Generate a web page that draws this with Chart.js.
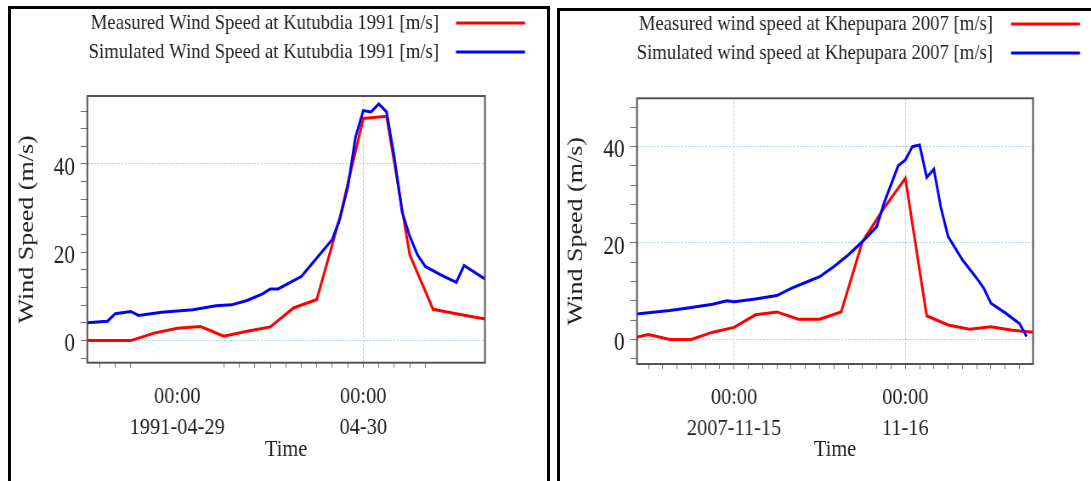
<!DOCTYPE html>
<html>
<head>
<meta charset="utf-8">
<script src="https://cdn.jsdelivr.net/npm/chart.js@4.4.1/dist/chart.umd.min.js"></script>
<style>
  html, body { margin: 0; padding: 0; background: #fff; width: 1091px; height: 481px; overflow: hidden; }
  .panel { position: absolute; box-sizing: border-box; border: 3px solid #000; height: 520px; }
  /* the source picture is squeezed sideways, so each chart is drawn wider and scaled back */
  .wrap { position: absolute; top: 0; height: 481px; transform-origin: 0 0; transform: scaleX(0.85); }
</style>
</head>
<body>
<div class="panel" style="left:8px;top:6px;width:542px"></div>
<div class="panel" style="left:557px;top:8px;width:600px"></div>
<div class="wrap" style="left:11px;width:631px"><canvas id="kutChart"></canvas></div>
<div class="wrap" style="left:560px;width:640px"><canvas id="khepChart"></canvas></div>

<script>
// Kutubdia 1991, hours from 1991-04-29 00:00
const kutMeasuredHours = [-12, -9, -6, -3, 0, 3, 6, 9, 12, 15, 18, 21, 24, 27, 30, 33, 36, 39, 42];
const kutMeasuredSpeed = [0, 0, 0, 1.7, 2.8, 3.2, 1.0, 2.1, 3.1, 7.4, 9.3, 28, 50.3, 50.8, 19.4, 7.1, 6.1, 5.1, 4.4];
const kutSimHours = [-12, -9, -8, -6, -5, -2, 2, 5, 7, 9, 11, 12, 13, 16, 18, 20, 21, 22, 23, 24, 25, 26, 27, 28, 29, 30, 31, 32, 34, 36, 37, 40];
const kutSimSpeed = [4.0, 4.4, 6.1, 6.6, 5.7, 6.4, 7.0, 7.9, 8.1, 9.1, 10.6, 11.7, 11.7, 14.5, 18.7, 22.9, 27.7, 34.8, 46.1, 52.1, 51.8, 53.6, 51.8, 41.6, 29.2, 23.6, 19.4, 16.8, 14.9, 13.2, 17.0, 13.6];
const kutDayHours = [0, 24];
const kutDayLabels = [['00:00', '1991-04-29'], ['00:00', '04-30']];
const kutTickMarks = [-10, -8, -6, 6, 8, 10, 12, 14, 16, 18, 20, 22, 24, 26, 28, 30, 32];

// Khepupara 2007, hours from 2007-11-15 00:00
const khepMeasuredHours = [-15, -12, -9, -6, -3, 0, 3, 6, 9, 12, 15, 18, 21, 24, 27, 30, 33, 36, 39, 42];
const khepMeasuredSpeed = [0, 1.0, 0, 0, 1.5, 2.5, 5.1, 5.7, 4.2, 4.2, 5.7, 20.3, 27.2, 33.4, 4.9, 3.0, 2.1, 2.6, 1.9, 1.5];
const khepSimHours = [-14, -9, -6, -3, -1, 0, 3, 6, 8, 10, 12, 14, 16, 18, 20, 21, 23, 24, 25, 26, 27, 28, 29, 30, 32, 34, 35, 36, 38, 40, 41];
const khepSimSpeed = [5.2, 6.0, 6.6, 7.3, 8.0, 7.8, 8.4, 9.1, 10.6, 11.8, 13.0, 15.1, 17.5, 20.3, 23.4, 28.2, 36.0, 37.2, 40.0, 40.3, 33.6, 35.3, 27.2, 21.3, 16.5, 12.7, 10.6, 7.5, 5.5, 3.3, 0.6];
const khepDayHours = [0, 24];
const khepDayLabels = [['00:00', '2007-11-15'], ['00:00', '11-16']];
const khepTickMarks = [-12, -10, -8, -6, -4, -2, 0, 2, 4, 6, 8, 10, 12, 14, 16, 18, 20, 22, 24, 26, 28, 30, 32, 34, 36, 38, 40];

const kutYMarks = [-4, 0, 4, 8, 12, 16, 20, 24, 28, 32, 36, 40, 44, 48, 52];
const khepYMarks = [-4, 0, 4, 8, 12, 16, 20, 24, 28, 32, 36, 40, 44, 48];
const yLabels = [0, 20, 40];

const serif = '"Liberation Serif", "Times New Roman", serif';
const gridColor = '#a9cdf2';

const framePlugin = {
    id: 'frame',
    afterDatasetsDraw(chart) {
        const a = chart.chartArea;
        const c = chart.ctx;
        c.save();
        c.strokeStyle = '#555';
        c.lineWidth = 2;
        c.strokeRect(a.left, a.top, a.right - a.left, a.bottom - a.top);
        c.restore();
    }
};

// legend text with the line sample on its right, as in the original
const sideLegend = {
    id: 'sideLegend',
    afterDraw(chart, args, o) {
        const c = chart.ctx;
        c.save();
        c.font = '22px ' + serif;
        c.textAlign = 'right';
        c.textBaseline = 'middle';
        chart.data.datasets.forEach((ds, i) => {
            const y = o.rows[i];
            c.fillStyle = '#222';
            c.fillText(ds.label, o.textRight, y);
            c.strokeStyle = ds.borderColor;
            c.lineWidth = 3;
            c.beginPath();
            c.moveTo(o.lineFrom, y);
            c.lineTo(o.lineTo, y);
            c.stroke();
        });
        c.restore();
    }
};

function toPoints(xs, ys) {
    return xs.map((x, i) => ({ x: x, y: ys[i] }));
}

function windChart(id, opt) {
    return new Chart(document.getElementById(id), {
        type: 'line',
        data: {
            datasets: [{
                label: opt.labels[0],
                data: toPoints(opt.mHours, opt.mSpeed),
                borderColor: '#ff0000',
                borderWidth: 3,
                pointRadius: 0,
                order: 2
            }, {
                label: opt.labels[1],
                data: toPoints(opt.sHours, opt.sSpeed),
                borderColor: '#0000ff',
                borderWidth: 3,
                pointRadius: 0,
                order: 1
            }]
        },
        options: {
            responsive: true,
            maintainAspectRatio: false,
            animation: false,
            layout: { padding: { top: opt.top, right: opt.right, left: 0, bottom: 0 } },
            plugins: {
                legend: { display: false },
                tooltip: { enabled: false },
                sideLegend: opt.legend
            },
            scales: {
                x: {
                    type: 'linear',
                    min: opt.xMin,
                    max: opt.xMax,
                    afterBuildTicks: s => { s.ticks = opt.xTicks.map(v => ({ value: v })); },
                    afterFit: s => { s.height = opt.xAxisHeight; },
                    grid: {
                        color: ctx => opt.xGrid.includes(ctx.tick.value) ? gridColor : 'rgba(0,0,0,0)',
                        tickColor: ctx => opt.xMarks.includes(ctx.tick.value) ? '#777' : 'rgba(0,0,0,0)',
                        tickLength: 5
                    },
                    border: { display: false, dash: [2, 2] },
                    ticks: {
                        autoSkip: false,
                        maxRotation: 0,
                        padding: 13,
                        color: '#222',
                        font: { family: serif, size: 24, lineHeight: 1.3 },
                        callback: v => {
                            const i = opt.dayHours.indexOf(v);
                            return i >= 0 ? opt.dayLabels[i] : '';
                        }
                    },
                    title: {
                        display: true,
                        text: 'Time',
                        color: '#222',
                        font: { family: serif, size: 24 },
                        padding: { top: 0, bottom: 16.6 }
                    }
                },
                y: {
                    min: opt.yMin,
                    max: opt.yMax,
                    afterBuildTicks: s => { s.ticks = opt.yMarks.map(v => ({ value: v })); },
                    afterFit: s => { s.width = opt.yAxisWidth; },
                    grid: {
                        color: ctx => opt.yGrid.includes(ctx.tick.value) ? gridColor : 'rgba(0,0,0,0)',
                        tickColor: '#777',
                        tickLength: 8
                    },
                    border: { display: false, dash: [2, 2] },
                    ticks: {
                        autoSkip: false,
                        padding: 6.5,
                        labelOffset: 4,
                        color: '#222',
                        font: { family: serif, size: 25 },
                        callback: v => yLabels.includes(v) ? String(v) : ''
                    },
                    title: {
                        display: true,
                        text: 'Wind Speed (m/s)',
                        color: '#222',
                        font: { family: serif, size: 26 },
                        padding: { top: 4, bottom: 0 }
                    }
                }
            }
        },
        plugins: [framePlugin, sideLegend]
    });
}

windChart('kutChart', {
    labels: ['Measured Wind Speed at Kutubdia 1991 [m/s]', 'Simulated Wind Speed at Kutubdia 1991 [m/s]'],
    mHours: kutMeasuredHours, mSpeed: kutMeasuredSpeed,
    sHours: kutSimHours, sSpeed: kutSimSpeed,
    xMin: -11.6, xMax: 39.7, yMin: -5, yMax: 55.4,
    xTicks: [0].concat(kutTickMarks), xMarks: kutTickMarks, xGrid: [24],
    yMarks: kutYMarks, yGrid: [0, 40],
    dayHours: kutDayHours, dayLabels: kutDayLabels,
    top: 96, right: 73.4, xAxisHeight: 118.3, yAxisWidth: 89.8,
    legend: { textRight: 503.5, lineFrom: 523.5, lineTo: 604.7, rows: [23, 52] }
});

windChart('khepChart', {
    labels: ['Measured wind speed at Khepupara 2007 [m/s]', 'Simulated wind speed at Khepupara 2007 [m/s]'],
    mHours: khepMeasuredHours, mSpeed: khepMeasuredSpeed,
    sHours: khepSimHours, sSpeed: khepSimSpeed,
    xMin: -13.6, xMax: 41.9, yMin: -5.1, yMax: 50,
    xTicks: khepTickMarks, xMarks: khepTickMarks, xGrid: [0, 24],
    yMarks: khepYMarks, yGrid: [0, 20, 40],
    dayHours: khepDayHours, dayLabels: khepDayLabels,
    top: 98.3, right: 83.5, xAxisHeight: 117, yAxisWidth: 90.6,
    legend: { textRight: 509.4, lineFrom: 530.6, lineTo: 611.8, rows: [24, 53] }
});
</script>
</body>
</html>
